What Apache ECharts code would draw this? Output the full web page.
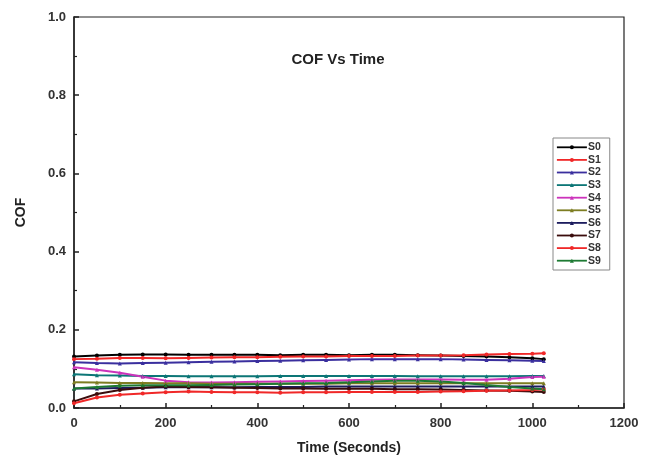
<!DOCTYPE html>
<html><head><meta charset="utf-8">
<script src="https://cdn.jsdelivr.net/npm/echarts@6/dist/echarts.min.js"></script>
<style>html,body{margin:0;padding:0;background:#fff}#c{width:657px;height:465px}</style>
</head><body><div id="c"></div>
<script>
const times = [0,50,100,150,200,250,300,350,400,450,500,550,600,650,700,750,800,850,900,950,1000,1025];
const seriesNames = ['S0','S1','S2','S3','S4','S5','S6','S7','S8','S9'];
const S0 = [0.132,0.134,0.136,0.137,0.137,0.136,0.136,0.136,0.136,0.135,0.136,0.136,0.135,0.136,0.136,0.135,0.134,0.133,0.132,0.130,0.127,0.125];
const S1 = [0.125,0.126,0.128,0.128,0.127,0.128,0.129,0.130,0.130,0.131,0.132,0.132,0.133,0.133,0.133,0.134,0.134,0.135,0.137,0.138,0.139,0.140];
const S2 = [0.117,0.115,0.114,0.115,0.116,0.117,0.118,0.119,0.120,0.121,0.122,0.123,0.124,0.125,0.125,0.125,0.125,0.124,0.123,0.122,0.121,0.120];
const S3 = [0.086,0.084,0.083,0.082,0.082,0.081,0.081,0.081,0.081,0.082,0.082,0.082,0.082,0.082,0.082,0.081,0.081,0.081,0.081,0.081,0.082,0.082];
const S4 = [0.104,0.098,0.090,0.080,0.070,0.066,0.065,0.066,0.067,0.068,0.069,0.070,0.071,0.072,0.073,0.073,0.073,0.072,0.072,0.075,0.079,0.080];
const S5 = [0.066,0.065,0.064,0.064,0.063,0.063,0.062,0.062,0.062,0.062,0.062,0.062,0.063,0.063,0.063,0.063,0.063,0.063,0.063,0.063,0.063,0.063];
const S6 = [0.050,0.050,0.051,0.052,0.053,0.053,0.053,0.053,0.054,0.054,0.054,0.055,0.055,0.055,0.055,0.055,0.055,0.055,0.055,0.055,0.055,0.055];
const S7 = [0.017,0.036,0.046,0.052,0.055,0.054,0.053,0.052,0.051,0.050,0.050,0.049,0.049,0.049,0.048,0.048,0.047,0.046,0.045,0.044,0.042,0.041];
const S8 = [0.012,0.027,0.034,0.037,0.040,0.042,0.041,0.040,0.040,0.039,0.040,0.040,0.041,0.041,0.041,0.041,0.042,0.043,0.044,0.045,0.046,0.047];
const S9 = [0.050,0.054,0.057,0.058,0.058,0.058,0.059,0.060,0.061,0.062,0.063,0.064,0.066,0.068,0.070,0.070,0.068,0.064,0.059,0.054,0.050,0.048];
const allValues = [S0,S1,S2,S3,S4,S5,S6,S7,S8,S9];
const colors = ['#000000','#f02828','#3a2f9e','#0c7676','#cc33bb','#7d7d22','#1c1c5e','#3a0c0c','#f02828','#1d7a33'];
const symbols = ['circle','circle','triangle','triangle','triangle','triangle','triangle','circle','circle','triangle'];

const chart = echarts.init(document.getElementById('c'), null, {renderer:'canvas'});
const font = 'Liberation Sans, Arial, sans-serif';
chart.setOption({
  animation:false,
  backgroundColor:'#fff',
  grid:{left:74,top:17,right:33,bottom:57,show:true,borderColor:'#222',borderWidth:1.2,backgroundColor:'transparent'},
  graphic:[{type:'text',x:338,y:60,style:{text:'COF Vs Time',font:'bold 15px '+font,fill:'#222',textAlign:'center',textVerticalAlign:'middle'}}],
  legend:{
    orient:'vertical',left:553,top:138,
    data:seriesNames,
    itemWidth:30,itemHeight:5,itemGap:0,
    padding:[3,9,3,3],
    borderColor:'#888',borderWidth:1,
    lineStyle:{width:1.8},
    textStyle:{fontFamily:font,fontSize:10.5,fontWeight:'bold',color:'#333',lineHeight:12.6,padding:[0,0,0,-4]}
  },
  xAxis:{
    type:'value',min:0,max:1200,interval:200,
    name:'Time (Seconds)',nameLocation:'middle',nameGap:33,
    nameTextStyle:{fontFamily:font,fontSize:14,fontWeight:'bold',color:'#222'},
    axisLine:{lineStyle:{color:'#222',width:1.5}},
    axisTick:{inside:true,length:5,lineStyle:{color:'#222',width:1.5}},
    minorTick:{show:true,splitNumber:2,length:3,lineStyle:{color:'#222',width:1.2}},
    axisLabel:{fontFamily:font,fontSize:13,fontWeight:'bold',color:'#333',margin:9,formatter:v=>String(v)},
    splitLine:{show:false}
  },
  yAxis:{
    type:'value',min:0,max:1,interval:0.2,
    name:'COF',nameLocation:'middle',nameGap:46,
    nameTextStyle:{fontFamily:font,fontSize:14,fontWeight:'bold',color:'#222'},
    axisLine:{show:true,lineStyle:{color:'#222',width:1.5}},
    axisTick:{show:true,inside:true,length:5,lineStyle:{color:'#222',width:1.5}},
    minorTick:{show:true,splitNumber:2,length:3,lineStyle:{color:'#222',width:1.2}},
    axisLabel:{fontFamily:font,fontSize:13,fontWeight:'bold',color:'#333',margin:8,formatter:v=>v.toFixed(1)},
    splitLine:{show:false}
  },
  series:seriesNames.map((n,i)=>({
    name:n,type:'line',
    data:times.map((t,j)=>[t,allValues[i][j]]),
    symbol:symbols[i],symbolSize:4,showSymbol:true,
    lineStyle:{width:2,color:colors[i]},
    itemStyle:{color:colors[i]}
  }))
});
</script></body></html>
